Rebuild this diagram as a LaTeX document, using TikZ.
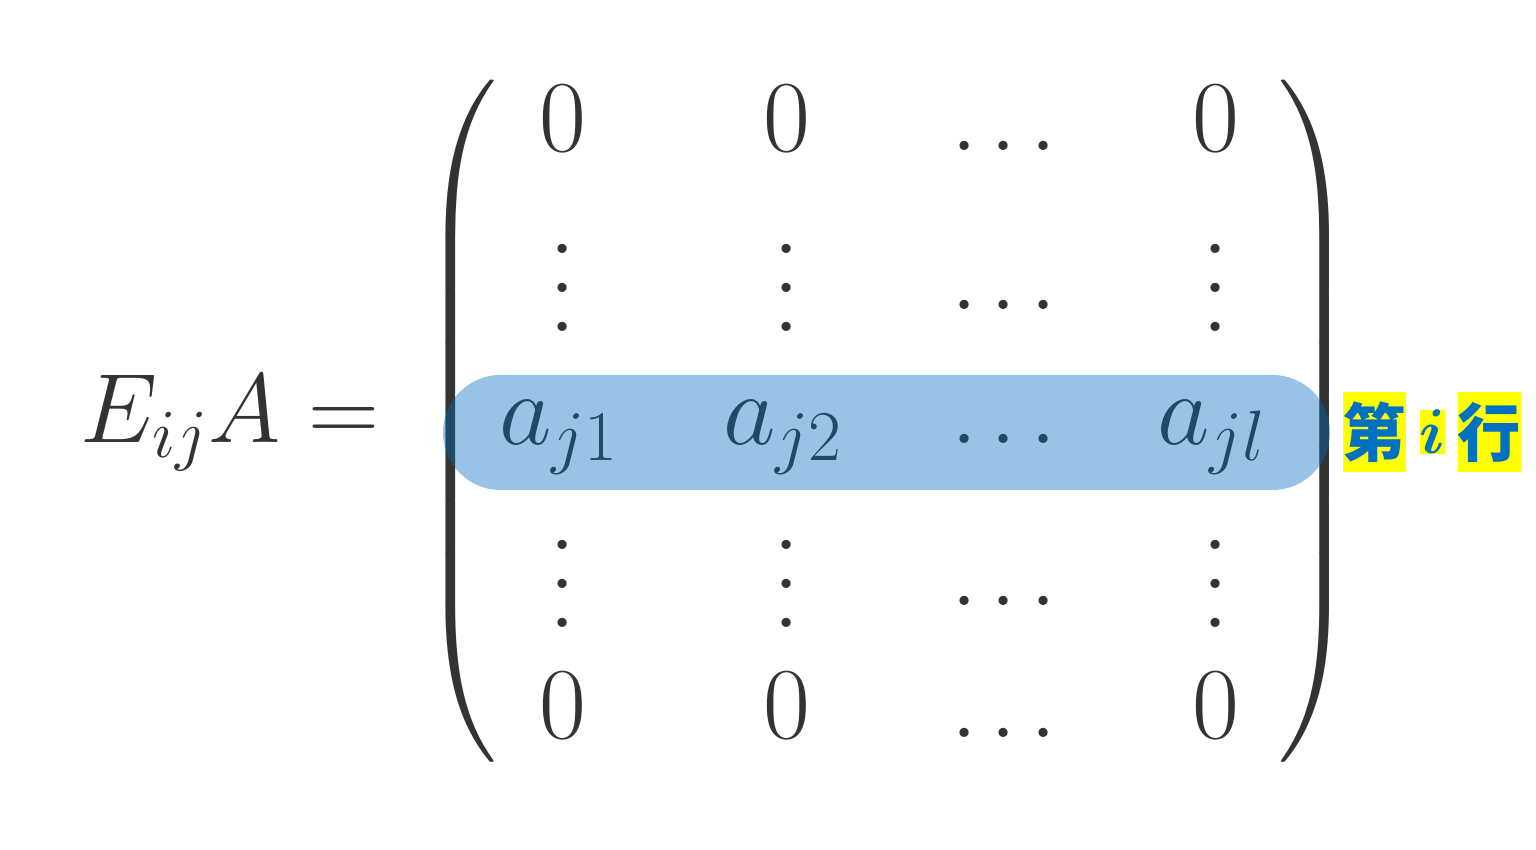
\RequirePackage{fix-cm}
\documentclass[tikz,border=0pt]{standalone}
\usepackage{amsmath}
\usepackage{fontspec}
\newfontfamily\cjk{Noto Sans CJK SC}
\usetikzlibrary{positioning}
\definecolor{inkgray}{RGB}{51,51,51}
\definecolor{rowblue}{RGB}{0,106,192}
\definecolor{labelblue}{RGB}{0,112,192}
\definecolor{marker}{RGB}{255,255,0}
\newcommand{\tallvdots}{\vbox{\baselineskip=0.39cm\lineskiplimit=0pt\hbox{.}\hbox{.}\hbox{.}}}
\newcommand{\rowdots}{.\kern0.1em.\kern0.1em.}
\newcommand{\bigstrut}{\vcenter{\hbox{\rule{0pt}{6.9cm}}}}

\begin{document}
\begin{tikzpicture}[
    entry/.style={anchor=base, inner sep=0pt, text=inkgray, font=\fontsize{29}{34}\selectfont},
    dotentry/.style={anchor=base, inner sep=0pt, text=inkgray, font=\fontsize{32}{38}\selectfont},
    paren/.style={inner sep=0pt, text=inkgray, font=\fontsize{29.5}{34}\selectfont},
    rowmark/.style={rectangle, minimum width=8.87cm, minimum height=1.15cm, rounded corners=0.575cm, fill=rowblue, fill opacity=0.4},
    tag/.style={fill=marker, text=labelblue, inner sep=0pt, minimum width=0.63cm, minimum height=0.80cm, font=\fontsize{18}{20}\selectfont\cjk\bfseries},
    tagvar/.style={fill=marker, text=labelblue, inner sep=0pt, minimum width=0.24cm, minimum height=0.44cm, font=\fontsize{18}{20}\selectfont}
]
    \useasboundingbox (0,0) rectangle (15.36,-8.5);

    % Left-hand side
    \node[entry, anchor=base west, font=\fontsize{28}{34}\selectfont] (lhs) at (0.80,-4.43) {$E_{ij}A=$};

    % Parentheses
    \node[paren] (lparen) at (4.59,-4.215) {$\nulldelimiterspace=0pt\left(\bigstrut\right.$};
    \node[paren] (rparen) at (13.17,-4.215) {$\nulldelimiterspace=0pt\left.\bigstrut\right)$};

    % Zero rows and vertical dots
    \foreach \x/\c in {5.63/1, 7.87/2, 12.16/4} {
        \node[entry] (top\c) at (\x,-1.52) {$0$};
        \node[dotentry] (up\c) at (\x,-3.32) {\tallvdots};
        \node[dotentry] (down\c) at (\x,-6.28) {\tallvdots};
        \node[entry] (bot\c) at (\x,-7.39) {$0$};
    }

    % Dots column
    \node[dotentry] (top3) at (10.04,-1.51) {\rowdots};
    \node[dotentry] (up3) at (10.04,-3.10) {\rowdots};
    \node[dotentry] (mid3) at (10.04,-4.44) {\rowdots};
    \node[dotentry] (down3) at (10.04,-6.06) {\rowdots};
    \node[dotentry] (bot3) at (10.04,-7.38) {\rowdots};

    % Row j
    \node[entry] (mid1) at (5.59,-4.45) {$a_{j1}$};
    \node[entry] (mid2) at (7.83,-4.45) {$a_{j2}$};
    \node[entry] (mid4) at (12.12,-4.45) {$a_{jl}$};

    % Highlight of the row
    \node[rowmark] (rowhl) at (8.865,-4.325) {};

    % Row label
    \node[tag] (tagdi) at (13.745,-4.32) {第};
    \node[tagvar, right=0.12cm of tagdi] (tagi) {$\boldsymbol{i}$};
    \node[tag, right=0.11cm of tagi] (taghang) {行};
\end{tikzpicture}
\end{document}
